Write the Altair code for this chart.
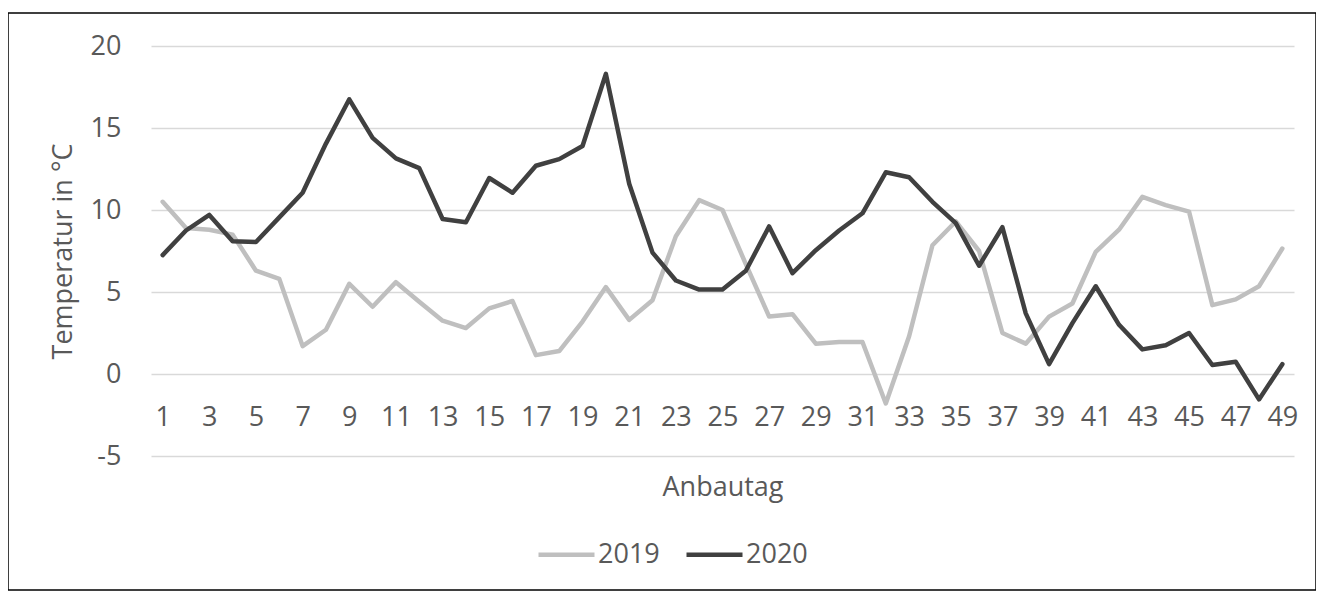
import altair as alt
import pandas as pd

days = list(range(1, 50))
t2019 = [10.5, 8.9, 8.8, 8.5, 6.3, 5.8, 1.7, 2.7, 5.5, 4.1,
         5.6, 4.4, 3.25, 2.8, 4.0, 4.45, 1.15, 1.4, 3.2, 5.3,
         3.3, 4.5, 8.4, 10.6, 10.0, 6.7, 3.5, 3.65, 1.85, 1.95,
         1.95, -1.8, 2.3, 7.85, 9.3, 7.5, 2.5, 1.85, 3.5, 4.3,
         7.45, 8.8, 10.8, 10.3, 9.9, 4.2, 4.55, 5.35, 7.65]
t2020 = [7.25, 8.75, 9.7, 8.1, 8.05, 9.55, 11.05, 14.05, 16.75, 14.4,
         13.15, 12.55, 9.45, 9.25, 11.95, 11.05, 12.7, 13.1, 13.9, 18.3,
         11.6, 7.4, 5.7, 5.15, 5.15, 6.3, 9.0, 6.15, 7.55, 8.75,
         9.8, 12.3, 12.0, 10.5, 9.2, 6.6, 8.95, 3.7, 0.6, 3.1,
         5.35, 3.0, 1.5, 1.75, 2.5, 0.55, 0.75, -1.55, 0.6]
series = ["2019", "2020"]
colors = ["#BFBFBF", "#404040"]
y_ticks = [-5, 0, 5, 10, 15, 20]
x_ticks = list(range(1, 50, 2))

rows = []
for s, vals in zip(series, [t2019, t2020]):
    for d, v in zip(days, vals):
        rows.append({"Anbautag": d, "Temp": v, "Jahr": s})
df = pd.DataFrame(rows)

W, H = 1143, 410
FONT = "Open Sans"
FS = 27
TXT = "#595959"

lines = alt.Chart(df).mark_line(
    strokeWidth=4.5, strokeCap="round", strokeJoin="round"
).encode(
    x=alt.X("Anbautag:Q",
            scale=alt.Scale(domain=[0.5, 49.5], nice=False, zero=False),
            axis=alt.Axis(values=x_ticks, grid=False, ticks=False, domain=False,
                          offset=-82, labelPadding=30, labelFlush=False,
                          labelOverlap=False, title="Anbautag",
                          titleY=121, titleX=W / 2, titleBaseline="alphabetic")),
    y=alt.Y("Temp:Q",
            scale=alt.Scale(domain=[-5, 20], nice=False, zero=False),
            axis=alt.Axis(values=y_ticks, ticks=False, domain=False,
                          labelPadding=30, gridColor="#D9D9D9", gridWidth=1.5,
                          labelExpr="'' + datum.value",
                          title="Temperatur in °C", titleX=-80, titleY=H / 2,
                          titleBaseline="alphabetic")),
    color=alt.Color("Jahr:N", scale=alt.Scale(domain=series, range=colors),
                    legend=alt.Legend(title=None, orient="none", direction="horizontal",
                                      legendX=385, legendY=478,
                                      symbolType="stroke", symbolSize=3136,
                                      symbolStrokeWidth=4.5, labelOffset=1,
                                      columnPadding=17)),
    order=alt.Order("Anbautag:Q"),
)

border = alt.Chart(alt.Data(values=[{}])).mark_rect(
    filled=False, stroke="black", strokeWidth=1.5
).encode(
    x=alt.value(-143), x2=alt.value(1165), y=alt.value(-33), y2=alt.value(544)
)

chart = alt.layer(lines, border).properties(
    width=W, height=H,
    autosize=alt.AutoSizeParams(type="none"),
    padding={"left": 143, "top": 38, "right": 22, "bottom": 140},
).configure(font=FONT).configure_view(stroke=None).configure_axis(
    labelFont=FONT, labelFontSize=FS, labelColor=TXT,
    titleFont=FONT, titleFontSize=FS, titleColor=TXT, titleFontWeight="normal",
).configure_legend(
    labelFont=FONT, labelFontSize=FS, labelColor=TXT,
)

chart.save("out.html", embed_options={"renderer": "svg", "actions": False})
